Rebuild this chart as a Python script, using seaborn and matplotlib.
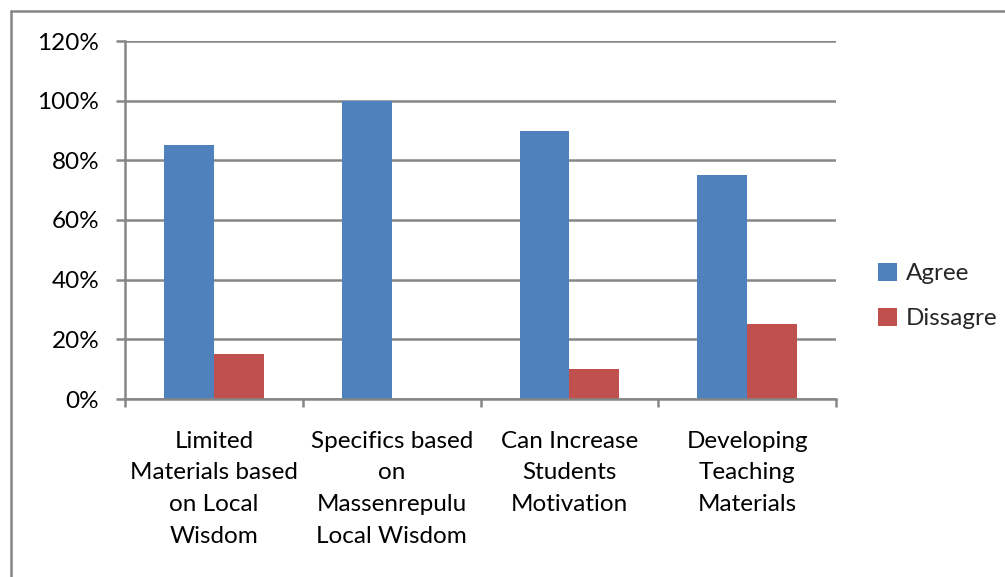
import matplotlib
matplotlib.use("Agg")
import matplotlib.pyplot as plt
from matplotlib.lines import Line2D
from matplotlib.ticker import PercentFormatter
import seaborn as sns
import pandas as pd

categories = ["Limited\nMaterials based\non Local\nWisdom",
              "Specifics based\non\nMassenrepulu\nLocal Wisdom",
              "Can Increase\nStudents\nMotivation",
              "Developing\nTeaching\nMaterials"]
agree = [85, 100, 90, 75]
dissagre = [15, 0, 10, 25]
series = ["Agree", "Dissagre"]
colors = ["#4F81BD", "#C0504D"]

df = pd.DataFrame({
    "cat": categories * 2,
    "val": agree + dissagre,
    "series": [series[0]] * 4 + [series[1]] * 4,
})

sns.set_style("white")
plt.rcParams["font.family"] = ["Lato", "DejaVu Sans"]

fig = plt.figure(figsize=(10.05, 5.77), dpi=100)
ax = fig.add_axes([125/1005, 1-399/577, (836-125)/1005, (399-41)/577])

sns.barplot(data=df, x="cat", y="val", hue="series", palette=colors,
            width=0.56, saturation=1, ax=ax, legend=True, linewidth=0)

grid_c = "#868686"
ax.set_ylim(0, 120)
ax.set_xlim(-0.5, 3.5)
ax.set_yticks(range(0, 121, 20))
ax.yaxis.set_major_formatter(PercentFormatter(decimals=0))
ax.grid(axis="y", color=grid_c, linewidth=1.8)
ax.set_axisbelow(True)
for s in ["top", "right"]:
    ax.spines[s].set_visible(False)
for s in ["left", "bottom"]:
    ax.spines[s].set_color(grid_c)
    ax.spines[s].set_linewidth(1.8)
ax.set_xlabel("")
ax.set_ylabel("")
ax.tick_params(axis="y", length=6.5, width=1.8, color=grid_c, pad=12,
               labelsize=17.5, labelcolor="black", left=True)
ax.set_xticks([-0.5, 0.5, 1.5, 2.5, 3.5], minor=True)
ax.tick_params(axis="x", which="minor", length=6, width=1.8, color=grid_c, bottom=True)
ax.tick_params(axis="x", which="major", length=0, pad=23, labelsize=17.5, labelcolor="black")
for lab in ax.get_xticklabels():
    lab.set_linespacing(1.62)
    lab.set_verticalalignment("top")

handles, labels = ax.get_legend_handles_labels()
ax.legend(handles=handles, labels=labels, loc="center left",
          bbox_to_anchor=(878/1005, 1-296/577), bbox_transform=fig.transFigure,
          frameon=False, fontsize=17.5, handlelength=0.8, handleheight=0.8,
          handletextpad=0.35, labelspacing=0.95, borderpad=0, borderaxespad=0)

# outer chart border (top and left visible)
fig.add_artist(Line2D([11/1005, 1.0], [1-11/577, 1-11/577], color=grid_c, linewidth=1.8))
fig.add_artist(Line2D([11/1005, 11/1005], [0, 1-11/577], color=grid_c, linewidth=1.8))

fig.savefig("out.png", dpi=100)
